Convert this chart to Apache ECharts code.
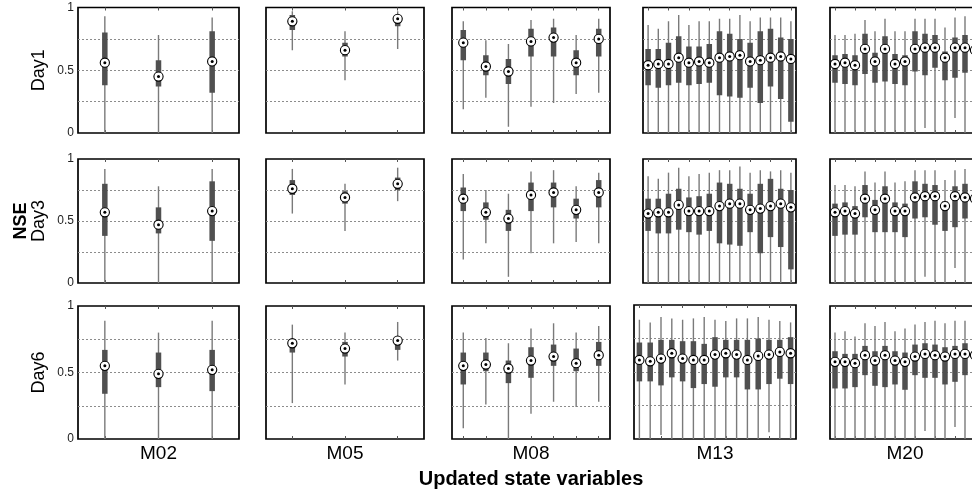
<!DOCTYPE html>
<html>
<head>
<meta charset="utf-8">
<script src="https://cdn.jsdelivr.net/npm/echarts@6/dist/echarts.min.js"></script>
<style>
	html, body { margin: 0; background: #fff; }
	#chart { width: 972px; height: 492px; }
</style>
</head>
<body>
<div id="chart"></div>
<script>
// each box: [low whisker, q1, median, q3, high whisker]
const models = ['M02', 'M05', 'M08', 'M13', 'M20'];
const days = ['Day1', 'Day3', 'Day6'];
const yTickLabels = { 0: '0', 0.5: '0.5', 1: '1' };

const d1_m02 = [[0, 0.38, 0.56, 0.80, 0.93], [0, 0.37, 0.45, 0.58, 0.78], [0, 0.32, 0.57, 0.81, 0.92]];
const d1_m05 = [[0.66, 0.82, 0.89, 0.94, 0.97], [0.42, 0.61, 0.66, 0.72, 0.81], [0.67, 0.85, 0.91, 0.94, 0.97]];
const d1_m08 = [
	[0.19, 0.58, 0.72, 0.82, 0.89], [0.28, 0.46, 0.53, 0.62, 0.74], [0.05, 0.39, 0.49, 0.59, 0.71],
	[0.21, 0.61, 0.73, 0.83, 0.90], [0.24, 0.61, 0.76, 0.84, 0.91], [0.31, 0.46, 0.56, 0.66, 0.78],
	[0.32, 0.61, 0.75, 0.83, 0.91]
];
const d1_m13 = [
	[0, 0.38, 0.54, 0.67, 0.86], [0, 0.36, 0.55, 0.67, 0.83], [0, 0.38, 0.55, 0.72, 0.89],
	[0, 0.40, 0.60, 0.77, 0.94], [0, 0.38, 0.56, 0.69, 0.86], [0, 0.39, 0.57, 0.69, 0.89],
	[0, 0.40, 0.56, 0.71, 0.89], [0, 0.30, 0.60, 0.81, 0.91], [0, 0.29, 0.61, 0.79, 0.91],
	[0, 0.28, 0.62, 0.75, 0.94], [0, 0.36, 0.57, 0.72, 0.89], [0, 0.24, 0.58, 0.81, 0.92],
	[0, 0.37, 0.60, 0.83, 0.92], [0, 0.27, 0.61, 0.76, 0.92], [0, 0.09, 0.59, 0.75, 0.89]
];
const d1_m20 = [
	[0, 0.40, 0.55, 0.62, 0.78], [0, 0.39, 0.56, 0.63, 0.78], [0, 0.38, 0.54, 0.62, 0.79],
	[0, 0.47, 0.67, 0.79, 0.90], [0, 0.40, 0.57, 0.64, 0.81], [0, 0.41, 0.67, 0.77, 0.91],
	[0, 0.39, 0.55, 0.63, 0.81], [0, 0.38, 0.57, 0.62, 0.81], [0, 0.49, 0.67, 0.81, 0.91],
	[0.04, 0.46, 0.68, 0.79, 0.91], [0, 0.52, 0.68, 0.78, 0.91], [0, 0.42, 0.60, 0.65, 0.84],
	[0.12, 0.44, 0.68, 0.76, 0.92], [0, 0.48, 0.68, 0.78, 0.93], [0, 0.45, 0.66, 0.77, 0.90]
];

const d3_m02 = [[0, 0.38, 0.57, 0.80, 0.92], [0, 0.40, 0.47, 0.61, 0.78], [0, 0.34, 0.58, 0.82, 0.92]];
const d3_m05 = [[0.56, 0.71, 0.76, 0.83, 0.92], [0.42, 0.64, 0.69, 0.74, 0.80], [0.66, 0.75, 0.80, 0.85, 0.93]];
const d3_m08 = [
	[0.19, 0.58, 0.68, 0.77, 0.88], [0.32, 0.51, 0.57, 0.65, 0.75], [0.05, 0.42, 0.52, 0.59, 0.72],
	[0.24, 0.58, 0.71, 0.81, 0.90], [0.32, 0.61, 0.73, 0.81, 0.91], [0.33, 0.52, 0.59, 0.68, 0.78],
	[0.32, 0.61, 0.73, 0.83, 0.89]
];
const d3_m13 = [
	[0, 0.42, 0.56, 0.68, 0.86], [0, 0.40, 0.57, 0.68, 0.84], [0, 0.40, 0.57, 0.72, 0.89],
	[0, 0.43, 0.63, 0.76, 0.93], [0, 0.41, 0.58, 0.69, 0.86], [0, 0.39, 0.58, 0.70, 0.88],
	[0, 0.42, 0.58, 0.72, 0.89], [0, 0.32, 0.62, 0.81, 0.91], [0, 0.31, 0.64, 0.80, 0.91],
	[0, 0.30, 0.64, 0.76, 0.94], [0, 0.41, 0.59, 0.72, 0.89], [0, 0.24, 0.60, 0.80, 0.91],
	[0, 0.37, 0.62, 0.84, 0.90], [0, 0.29, 0.64, 0.76, 0.91], [0, 0.11, 0.61, 0.75, 0.89]
];
const d3_m20 = [
	[0, 0.38, 0.57, 0.64, 0.79], [0, 0.39, 0.58, 0.65, 0.79], [0, 0.39, 0.56, 0.62, 0.78],
	[0, 0.53, 0.68, 0.79, 0.90], [0, 0.41, 0.59, 0.67, 0.81], [0, 0.41, 0.68, 0.78, 0.90],
	[0, 0.41, 0.58, 0.65, 0.81], [0, 0.37, 0.58, 0.64, 0.82], [0, 0.52, 0.69, 0.82, 0.91],
	[0.05, 0.53, 0.70, 0.80, 0.91], [0, 0.47, 0.70, 0.79, 0.91], [0, 0.42, 0.62, 0.66, 0.83],
	[0.12, 0.45, 0.70, 0.78, 0.91], [0, 0.52, 0.69, 0.80, 0.92], [0, 0.48, 0.68, 0.78, 0.90]
];

const d6_m02 = [[0, 0.34, 0.55, 0.67, 0.89], [0, 0.39, 0.49, 0.65, 0.80], [0, 0.36, 0.52, 0.67, 0.89]];
const d6_m05 = [[0.27, 0.65, 0.72, 0.72, 0.86], [0.41, 0.62, 0.68, 0.73, 0.80], [0.59, 0.67, 0.74, 0.76, 0.88]];
const d6_m08 = [
	[0.08, 0.41, 0.55, 0.65, 0.80], [0.26, 0.51, 0.56, 0.65, 0.76], [0, 0.42, 0.53, 0.59, 0.72],
	[0.19, 0.46, 0.59, 0.69, 0.83], [0.28, 0.55, 0.62, 0.71, 0.87], [0.24, 0.51, 0.57, 0.68, 0.80],
	[0.28, 0.55, 0.63, 0.73, 0.85]
];
const d6_m13 = [
	[0, 0.43, 0.59, 0.72, 0.89], [0, 0.43, 0.58, 0.72, 0.87], [0.03, 0.40, 0.60, 0.74, 0.91],
	[0, 0.46, 0.64, 0.74, 0.90], [0, 0.43, 0.60, 0.73, 0.89], [0, 0.38, 0.59, 0.73, 0.90],
	[0, 0.41, 0.59, 0.71, 0.91], [0, 0.39, 0.63, 0.76, 0.89], [0, 0.46, 0.64, 0.74, 0.88],
	[0, 0.46, 0.63, 0.74, 0.90], [0, 0.37, 0.59, 0.74, 0.90], [0, 0.37, 0.62, 0.75, 0.91],
	[0.05, 0.41, 0.63, 0.74, 0.89], [0, 0.45, 0.65, 0.74, 0.88], [0, 0.41, 0.64, 0.76, 0.87]
];
const d6_m20 = [
	[0, 0.38, 0.58, 0.66, 0.80], [0, 0.38, 0.58, 0.64, 0.81], [0, 0.39, 0.57, 0.64, 0.77],
	[0, 0.48, 0.63, 0.70, 0.87], [0, 0.40, 0.59, 0.66, 0.85], [0, 0.39, 0.63, 0.70, 0.88],
	[0, 0.41, 0.59, 0.66, 0.81], [0, 0.37, 0.58, 0.65, 0.83], [0, 0.48, 0.62, 0.71, 0.86],
	[0.06, 0.46, 0.64, 0.72, 0.88], [0, 0.46, 0.63, 0.71, 0.89], [0, 0.41, 0.62, 0.69, 0.87],
	[0.09, 0.43, 0.64, 0.70, 0.89], [0, 0.48, 0.64, 0.72, 0.89], [0, 0.45, 0.63, 0.71, 0.88]
];

const panels = [
	[d1_m02, d1_m05, d1_m08, d1_m13, d1_m20],
	[d3_m02, d3_m05, d3_m08, d3_m13, d3_m20],
	[d6_m02, d6_m05, d6_m08, d6_m13, d6_m20]
];

// layout in px: [left, width] per column, [top, height] per row
const colBox = [[78, 161], [266, 158], [452, 158], [643, 153], [830, 150]];
const rowBox = [[7.5, 125.5], [159, 124], [306, 133]];
const FONT = '"Liberation Sans", Arial, Helvetica, sans-serif';

const renderBox = (params, api) => {
	const x = api.value(0),
		lo = api.coord([x, api.value(1)]),
		q1 = api.coord([x, api.value(2)]),
		med = api.coord([x, api.value(3)]),
		q3 = api.coord([x, api.value(4)]),
		hi = api.coord([x, api.value(5)]),
		bw = 5.5;
	return {
		type: 'group',
		children: [
			{ type: 'line', shape: { x1: lo[0], y1: lo[1], x2: hi[0], y2: hi[1] },
				style: { stroke: '#7a7a7a', lineWidth: 1.4 } },
			{ type: 'rect', shape: { x: q3[0] - bw / 2, y: q3[1], width: bw, height: q1[1] - q3[1] },
				style: { fill: '#505050' } },
			{ type: 'circle', shape: { cx: med[0], cy: med[1], r: 4.6 },
				style: { fill: '#fff', stroke: '#000', lineWidth: 1.1 } },
			{ type: 'circle', shape: { cx: med[0], cy: med[1], r: 1.5 }, style: { fill: '#000' } }
		]
	};
};

const grid = [], xAxis = [], yAxis = [], series = [];

panels.forEach((row, r) => row.forEach((boxes, c) => {
	const k = grid.length;
	let [left, width] = colBox[c], [top, height] = rowBox[r];
	if (r === 2 && c === 3) { left = 634; width = 162; top = 305; height = 134; }
	grid.push({
		left, top, width, height, show: true, backgroundColor: '#fff',
		borderColor: '#000', borderWidth: 1.7, containLabel: false, outerBoundsMode: 'none'
	});
	const cats = boxes.map((b, i) => String(i + 1));
	const tick = { show: true, inside: true, length: 3, alignWithLabel: true, lineStyle: { color: '#555' } };
	xAxis.push({
		type: 'category', gridIndex: k, data: cats, boundaryGap: true,
		axisLine: { show: false }, axisTick: tick, axisLabel: { show: false },
		name: r === 2 ? models[c] : '', nameLocation: 'middle', nameGap: 5,
		nameTextStyle: { fontSize: 19, color: '#000', fontFamily: FONT }
	});
	xAxis.push({
		type: 'category', gridIndex: k, data: cats, boundaryGap: true, position: 'top',
		axisLine: { show: false }, axisTick: tick, axisLabel: { show: false }
	});
	yAxis.push({
		type: 'value', gridIndex: k, min: 0, max: 1, interval: 0.25,
		axisLine: { show: false }, axisTick: { show: false },
		splitLine: {
			show: true, showMinLine: false, showMaxLine: false,
			lineStyle: { color: '#8c8c8c', type: [2, 2], width: 1 }
		},
		axisLabel: {
			show: c === 0, margin: 4, fontSize: 12, color: '#222', fontFamily: FONT,
			formatter: v => yTickLabels[v] ?? ''
		},
		name: c === 0 ? days[r] : '', nameLocation: 'middle', nameGap: 30, nameRotate: 90,
		nameTextStyle: { fontSize: 18, color: '#000', fontFamily: FONT }
	});
	series.push({
		type: 'custom', xAxisIndex: 2 * k, yAxisIndex: k, clip: true,
		renderItem: renderBox,
		encode: { x: 0, y: [1, 2, 3, 4, 5] },
		data: boxes.map((b, i) => [i, ...b])
	});
}));

const chart = echarts.init(document.getElementById('chart'));
chart.setOption({
	animation: false,
	backgroundColor: '#fff',
	grid, xAxis, yAxis, series,
	graphic: [
		{ type: 'text', x: 21, y: 221, rotation: Math.PI / 2,
			style: { text: 'NSE', fontSize: 18, fontWeight: 'bold', fontFamily: FONT, fill: '#000',
				align: 'center', verticalAlign: 'middle' } },
		{ type: 'text', x: 531, y: 479,
			style: { text: 'Updated state variables', fontSize: 20, fontWeight: 'bold', fontFamily: FONT,
				fill: '#000', align: 'center', verticalAlign: 'middle' } }
	]
});
</script>
</body>
</html>
